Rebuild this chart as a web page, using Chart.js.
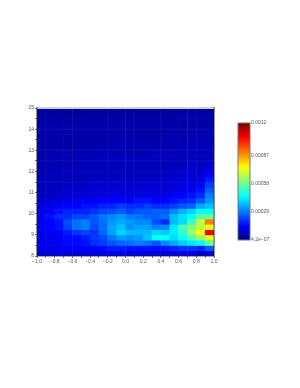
<!DOCTYPE html>
<html><head><meta charset="utf-8">
<script src="https://cdn.jsdelivr.net/npm/chart.js@4"></script>
<style>html,body{margin:0;padding:0;background:#fff}canvas{position:absolute;left:0;top:0}</style>
</head><body>
<canvas id="c1" width="300" height="388"></canvas>
<canvas id="c2" width="300" height="388"></canvas>
<script>
// values in units of 1e-5, rows from y=8 upward, 20 columns from x=-1 to 1
const r00=[11,12,12,12,12,12,12,13,13,13,12,13,12,12,12,13,13,13,9,11];
const r01=[12,12,13,14,14,14,14,16,18,18,17,16,17,16,17,19,21,21,19,26];
const r02=[13,13,14,16,16,17,20,22,25,27,28,30,28,25,31,35,39,42,44,58];
const r03=[12,12,14,16,16,18,22,24,29,33,32,33,38,46,46,41,46,54,62,72];
const r04=[13,14,15,18,21,23,21,27,34,40,37,36,37,41,39,43,50,63,74,106];
const r05=[14,15,17,23,28,30,24,28,34,38,32,34,34,30,31,43,54,60,68,72];
const r06=[14,15,17,24,28,30,25,28,33,35,33,31,31,24,20,37,41,52,66,90];
const r07=[14,17,20,20,23,23,25,29,31,33,29,29,27,26,28,37,41,45,56,58];
const r08=[12,14,17,19,19,19,21,23,24,26,23,25,25,26,26,31,36,40,45,45];
const r09=[11,12,14,15,15,17,17,19,19,22,20,20,22,20,20,22,25,27,35,38];
const r10=[9,10,12,12,14,14,14,15,15,15,15,17,17,15,15,17,19,20,25,33];
const r11=[7,8,9,10,10,10,11,11,12,12,11,12,12,12,12,14,15,17,20,30];
const r12=[7,7,8,9,9,9,10,10,10,10,10,10,10,10,10,11,12,14,17,26];
const r13=[7,7,7,8,8,8,9,9,9,9,9,9,9,9,10,10,11,12,14,22];
const r14=[7,7,7,7,7,7,8,8,8,8,8,8,8,9,9,10,10,10,11,18];
const r15=[6,7,7,7,7,7,7,7,7,7,7,7,7,7,8,8,9,10,10,15];
const r16=[6,6,7,7,7,7,7,7,7,7,7,7,7,7,7,8,8,9,9,10];
const r17=[6,6,6,6,7,7,7,7,7,7,7,7,7,7,7,7,7,8,8,9];
const r18=[5,6,6,6,6,6,7,7,7,7,7,7,7,7,7,7,7,7,7,8];
const r19=[5,5,6,6,6,6,6,6,6,6,6,6,6,7,7,7,7,7,7,7];
const r20=[5,5,5,5,6,6,6,6,6,6,6,6,6,6,6,6,7,7,7,7];
const r21=[5,5,5,5,5,5,5,6,6,6,6,6,6,6,6,6,6,6,6,7];
const r22=[5,5,5,5,5,5,5,5,5,5,5,5,5,5,6,6,6,6,6,6];
const r23=[5,5,5,5,5,5,5,5,5,5,5,5,5,5,5,5,5,5,6,6];
const r24=[5,5,5,5,5,5,5,5,5,5,5,5,5,5,5,5,5,5,5,5];
const r25=[4,4,4,4,4,4,5,5,5,5,5,5,5,5,5,5,5,5,5,5];
const r26=[4,4,4,4,4,4,4,4,4,4,4,4,4,4,4,4,5,5,5,5];
const r27=[4,4,4,4,4,4,4,4,4,4,4,4,4,4,4,4,4,4,4,4];
const rows=[r00,r01,r02,r03,r04,r05,r06,r07,r08,r09,r10,r11,r12,r13,r14,r15,r16,r17,r18,r19,r20,r21,r22,r23,r24,r25,r26,r27];
const xStart=-1, xStep=0.1, yStart=8, yStep=0.25;
const seamX=[-0.9,-0.6,-0.2,0,0.1,0.4,0.7,0.8];
const seamY=[14,13,12.5,11.5];
const barTickValues=[0.00000042,0.00029,0.00058,0.00087,0.0012];
const barTickLabels=['4.2e−07','0.00029','0.00058','0.00087','0.0012'];
const barMax=0.0012;

function jet(t){
  t=Math.max(0,Math.min(1,t));
  const f=(a)=>Math.round(255*Math.max(0,Math.min(1,1.5-Math.abs(4*t-a))));
  return `rgb(${f(3)},${f(2)},${f(1)})`;
}
const cells=[],cols=[];
rows.forEach((row,j)=>row.forEach((v,i)=>{
  const x=xStart+(i+0.5)*xStep, y0=yStart+j*yStep;
  cells.push({x:+x.toFixed(2),y:[y0,y0+yStep]});
  cols.push(jet(v*1e-5/barMax));
}));
const font={family:'"Liberation Sans",Arial,sans-serif',size:5};
const decor={id:'decor',afterDraw(ch){
  const c=ch.ctx,a=ch.chartArea,sx=ch.scales.x,sy=ch.scales.y;
  c.save();
  c.fillStyle='rgba(255,255,255,0.06)';
  seamX.forEach(v=>c.fillRect(sx.getPixelForValue(v)-0.5,a.top,1,a.bottom-a.top));
  seamY.forEach(v=>c.fillRect(a.left,sy.getPixelForValue(v)-0.5,a.right-a.left,1));
  c.fillStyle='#cfcfcf';c.fillRect(a.left,a.top-1,a.right-a.left,2);
  c.fillStyle='#222';c.fillRect(a.left-0.5,a.top-1,0.8,a.bottom-a.top+1.5);
  c.fillRect(a.right-0.3,a.top-1,0.8,a.bottom-a.top+1.5);
  c.fillRect(a.left,a.bottom-0.4,a.right-a.left,0.8);c.restore();
}};
new Chart(document.getElementById('c1'),{
  type:'bar',
  data:{datasets:[{data:cells,backgroundColor:cols,borderWidth:0,barPercentage:1,categoryPercentage:1}]},
  plugins:[decor],
  options:{responsive:false,animation:false,
    layout:{autoPadding:false,padding:{left:0,top:108,right:86,bottom:0}},
    plugins:{legend:{display:false},tooltip:{enabled:false}},
    scales:{
      x:{type:'linear',offset:false,min:-1,max:1,border:{display:false},
        afterFit(s){s.height=132;},
        grid:{offset:false,drawOnChartArea:false,tickLength:2,tickColor:'#444',tickWidth:0.7},
        ticks:{stepSize:0.1,autoSkip:false,maxRotation:0,padding:1,color:'#555',font,
          callback(v){const k=Math.round(v*10);return k%2===0?(k<0?'−':'')+Math.abs(v).toFixed(1):'';}}},
      y:{min:8,max:15,border:{display:false},
        afterFit(s){s.width=37;},
        grid:{drawOnChartArea:false,tickLength:2,tickColor:'#444',tickWidth:0.7},
        ticks:{stepSize:0.5,autoSkip:false,padding:1,color:'#555',font,
          callback(v){return Number.isInteger(v)?String(v):'';}}}
    }}
});
// colour bar
const barSteps=[];for(let i=0;i<64;i++)barSteps.push(i);
const barCells=barSteps.map(i=>({x:0.5,y:[i/64*barMax,(i+1)/64*barMax]}));
const barCols=barSteps.map(i=>jet((i+0.5)/64));
const barFrame={id:'barFrame',afterDraw(ch){const c=ch.ctx,a=ch.chartArea;c.save();c.strokeStyle='#777';c.lineWidth=1;c.strokeRect(a.left,a.top,a.right-a.left,a.bottom-a.top);c.restore();}};
new Chart(document.getElementById('c2'),{
  type:'bar',
  data:{labels:['b'],datasets:[{data:barCells,backgroundColor:barCols,borderWidth:0,grouped:false,barPercentage:1,categoryPercentage:1}]},
  plugins:[barFrame],
  options:{responsive:false,animation:false,
    layout:{autoPadding:false,padding:{left:238,top:123,right:0,bottom:148}},
    plugins:{legend:{display:false},tooltip:{enabled:false}},
    scales:{
      x:{type:'linear',offset:false,min:0,max:1,display:false},
      y:{position:'right',min:0,max:barMax,border:{display:false},
        afterFit(s){s.width=50;},
        afterBuildTicks(s){s.ticks=barTickValues.map(v=>({value:v}));},
        grid:{drawOnChartArea:false,drawTicks:false},
        ticks:{padding:1,color:'#555',font,autoSkip:false,callback(v){return barTickLabels[barTickValues.indexOf(v)];}}}
    }}
});
</script>
</body></html>
